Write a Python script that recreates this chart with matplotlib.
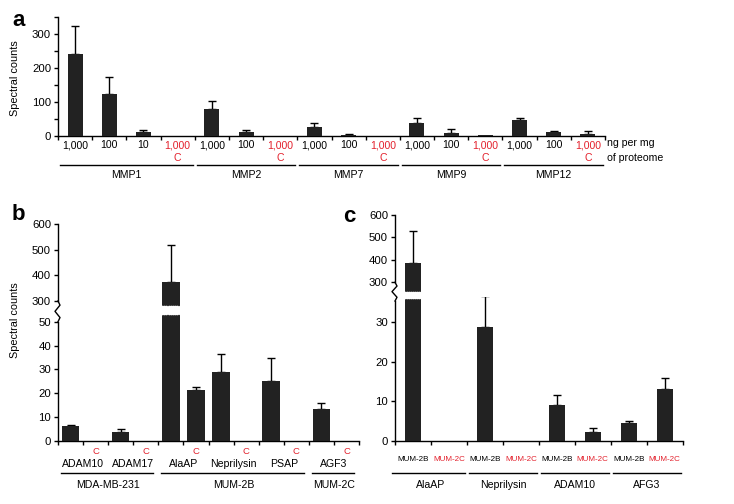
import matplotlib
matplotlib.use('Agg')
import matplotlib.pyplot as plt
import matplotlib.transforms as mtransforms
from matplotlib.lines import Line2D
import numpy as np

plt.rcParams['font.family'] = ['Liberation Sans', 'DejaVu Sans']
plt.rcParams['font.size'] = 7.6

W, H = 734, 504
RED = '#e3202c'
BAR = '#222222'

# ---- panel a data ----
a_groups = ['MMP1', 'MMP2', 'MMP7', 'MMP9', 'MMP12']
a_doses = [['1,000', '100', '10', '1,000'],
           ['1,000', '100', '1,000'],
           ['1,000', '100', '1,000'],
           ['1,000', '100', '1,000'],
           ['1,000', '100', '1,000']]
a_is_ctrl = [[0, 0, 0, 1], [0, 0, 1], [0, 0, 1], [0, 0, 1], [0, 0, 1]]
a_vals = [[241, 123, 10, 0], [78, 10, 0], [25, 3, 0], [37, 9, 1], [47, 10, 6]]
a_err = [[82, 49, 6, 0], [24, 6, 0], [11, 3, 0], [14, 10, 0], [5, 3, 7]]

# ---- panel b data ----
b_proteins = ['ADAM10', 'ADAM17', 'AlaAP', 'Neprilysin', 'PSAP', 'AGF3']
b_lines = ['MDA-MB-231', 'MUM-2B', 'MUM-2C']
b_line_span = [(0, 4), (4, 10), (10, 12)]
b_vals = [6.4, 0, 4.0, 0, 375, 21.5, 29, 0, 25, 0, 13.4, 0]
b_err = [0.5, 0, 1.1, 0, 145, 1.0, 7.6, 0, 9.8, 0, 2.6, 0]

# ---- panel c data ----
c_proteins = ['AlaAP', 'Neprilysin', 'ADAM10', 'AFG3']
c_lines = ['MUM-2B', 'MUM-2C']
c_vals = [387, 0, 28.8, 0, 9.0, 2.3, 4.5, 13.2]
c_err = [140, 0, 7.9, 0, 2.5, 1.1, 0.5, 2.8]

fig = plt.figure(figsize=(W / 100, H / 100), dpi=100)


def px_axes(l, t, r, b):
    return fig.add_axes([l / W, 1 - b / H, (r - l) / W, (b - t) / H])


def fy(py):
    return 1 - py / H


def style(ax, n):
    for s in ['top', 'right']:
        ax.spines[s].set_visible(False)
    for s in ['left', 'bottom']:
        ax.spines[s].set_linewidth(1.0)
    ax.set_xlim(0, n)
    ax.set_xticks(np.arange(n + 1))
    ax.set_xticklabels([])
    ax.tick_params(axis='both', length=3, width=1.0, pad=2, labelsize=8.2)


def draw_bars(ax, vals, errs, width=0.44):
    x = np.arange(len(vals)) + 0.5
    ax.bar(x, vals, width, color=BAR, zorder=3)
    for xi, v, e in zip(x, vals, errs):
        if e > 0:
            ax.errorbar(xi, v, yerr=[[0], [e]], color='k', lw=1.0,
                        capsize=3, capthick=1.0, zorder=2)


def zigzag(x, y0, y1):
    h = y1 - y0
    xs = [x, x + 2, x - 3, x + 2, x]
    ys = [y0, y0 + 0.2 * h, y0 + 0.5 * h, y0 + 0.8 * h, y1]
    fig.add_artist(Line2D([v / W for v in xs], [fy(v) for v in ys],
                          transform=fig.transFigure, color='k', lw=1.0))


def break_dots(ax, xc, y, width):
    xs = np.linspace(xc - width / 2, xc + width / 2, 9)
    ax.plot(xs, [y] * len(xs), 'o', ms=1.6, color='white', zorder=4,
            clip_on=False)


# ================= panel a =================
a_n = sum(len(v) for v in a_vals)
axa = px_axes(58, 17, 605, 135.7)
style(axa, a_n)
draw_bars(axa, sum(a_vals, []), sum(a_err, []))
axa.set_ylim(0, 350)
axa.set_yticks(np.arange(0, 351, 50))
axa.set_yticklabels(['0', '', '100', '', '200', '', '300', ''])
ta = mtransforms.blended_transform_factory(axa.transData, fig.transFigure)
pos = 0
for g, doses, ctrl in zip(a_groups, a_doses, a_is_ctrl):
    for d, c in zip(doses, ctrl):
        axa.text(pos + 0.5, fy(145), d, transform=ta, ha='center', va='center',
                 color=RED if c else 'k')
        if c:
            axa.text(pos + 0.5, fy(158.3), 'C', transform=ta, ha='center',
                     va='center', color=RED)
        pos += 1
    start = pos - len(doses)
    axa.add_line(Line2D([start + 0.06, pos - 0.06], [fy(165), fy(165)],
                        transform=ta, color='k', lw=1.0, clip_on=False))
    axa.text((start + pos) / 2, fy(175), g, transform=ta, ha='center',
             va='center')
fig.text(607 / W, fy(143.3), 'ng per mg', ha='left', va='center')
fig.text(607 / W, fy(158.3), 'of proteome', ha='left', va='center')
fig.text(15 / W, fy(78), 'Spectral counts', rotation=90, ha='center',
         va='center', fontsize=7.8)
fig.text(12 / W, fy(21), 'a', fontsize=16, fontweight='bold', ha='left',
         va='center')

# ================= panel b =================
b_n = len(b_vals)
bw = 0.7
bt = px_axes(58, 224, 359, 307)
bb = px_axes(58, 313, 359, 441.3)
style(bt, b_n)
style(bb, b_n)
draw_bars(bt, b_vals, b_err, bw)
draw_bars(bb, b_vals, b_err, bw)
bt.set_ylim(276.6, 600)
bt.spines['bottom'].set_visible(False)
bt.spines['left'].set_bounds(300, 600)
bt.set_yticks([300, 400, 500, 600])
bt.tick_params(axis='x', bottom=False)
bb.set_ylim(0, 53.6)
bb.spines['left'].set_bounds(0, 50)
bb.set_yticks(np.arange(0, 51, 10))
big = int(np.argmax(b_vals))
break_dots(bt, big + 0.5, 276.6, bw)
break_dots(bb, big + 0.5, 53.6, bw)
zigzag(58, 301, 321.7)
tb = mtransforms.blended_transform_factory(bb.transData, fig.transFigure)
for i, p in enumerate(b_proteins):
    bb.text(2 * i + 1, fy(464), p, transform=tb, ha='center', va='center')
    bb.text(2 * i + 1.5, fy(451.7), 'C', transform=tb, ha='center',
            va='center', color=RED, fontsize=6.8)
for name, (s, e) in zip(b_lines, b_line_span):
    bb.add_line(Line2D([s + 0.12, e - 0.2], [fy(472.7), fy(472.7)],
                       transform=tb, color='k', lw=1.0, clip_on=False))
    bb.text((s + e) / 2, fy(485), name, transform=tb, ha='center',
            va='center')
fig.text(15 / W, fy(320), 'Spectral counts', rotation=90, ha='center',
         va='center', fontsize=7.8)
fig.text(12 / W, fy(215), 'b', fontsize=16, fontweight='bold', ha='left',
         va='center')

# ================= panel c =================
c_n = len(c_vals)
cw = 0.44
ct = px_axes(395, 215, 682.7, 293.3)
cb = px_axes(395, 297.3, 682.7, 441)
style(ct, c_n)
style(cb, c_n)
draw_bars(ct, c_vals, c_err, cw)
draw_bars(cb, c_vals, c_err, cw)
ct.set_ylim(251, 600)
ct.spines['bottom'].set_visible(False)
ct.spines['left'].set_bounds(300, 600)
ct.set_yticks([300, 400, 500, 600])
ct.tick_params(axis='x', bottom=False)
cb.set_ylim(0, 36.3)
cb.spines['left'].set_bounds(0, 35.4)
cb.set_yticks([0, 10, 20, 30])
big = int(np.argmax(c_vals))
break_dots(ct, big + 0.5, 251, cw)
break_dots(cb, big + 0.5, 36.3, cw)
zigzag(395, 282.3, 301)
tc = mtransforms.blended_transform_factory(cb.transData, fig.transFigure)
for i, p in enumerate(c_proteins):
    for j, ln in enumerate(c_lines):
        cb.text(2 * i + j + 0.5, fy(459.3), ln, transform=tc, ha='center',
                va='center', fontsize=5.8, color=RED if j else 'k')
    cb.add_line(Line2D([2 * i - 0.08 if i == 0 else 2 * i + 0.06,
                        2 * i + 1.94], [fy(473.3), fy(473.3)],
                       transform=tc, color='k', lw=1.0, clip_on=False))
    cb.text(2 * i + 1, fy(485), p, transform=tc, ha='center', va='center')
fig.text(343 / W, fy(217), 'c', fontsize=16, fontweight='bold', ha='left',
         va='center')

fig.savefig('out.png', dpi=100)
